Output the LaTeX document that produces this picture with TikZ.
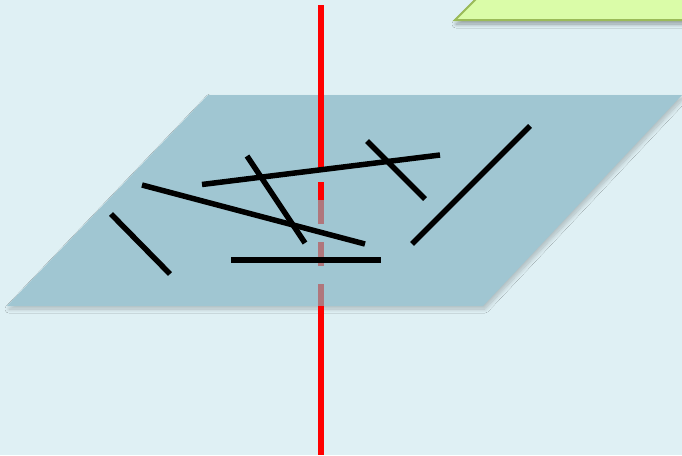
\documentclass[tikz,border=0pt]{standalone}
\usetikzlibrary{shadows.blur}
\definecolor{bgc}{RGB}{223,240,244}
\definecolor{planec}{RGB}{160,198,210}
\definecolor{greenf}{RGB}{218,252,168}
\definecolor{greenb}{RGB}{155,187,89}
\definecolor{hiddenred}{RGB}{176,118,124}
\tikzset{
  seg/.style={line width=5.5pt, black, line cap=butt},
  redline/.style={line width=6pt, red, line cap=butt},
  hidline/.style={line width=6pt, hiddenred, line cap=butt},
}
\begin{document}
\begin{tikzpicture}[x=1pt,y=-1pt]
\useasboundingbox (0,0) rectangle (682,455);
\fill[bgc] (0,0) rectangle (682,455);
% green shape at top right
\begin{scope}
\clip (0,0) rectangle (682,455);
\fill[greenf, draw=greenb, line width=2pt, blur shadow={shadow xshift=1pt, shadow yshift=-4pt, shadow blur radius=4pt, shadow blur steps=8, shadow opacity=35}]
  (455,20) -- (495,-20) -- (700,-20) -- (700,20) -- cycle;
\end{scope}
% plane
\fill[planec, blur shadow={shadow xshift=2pt, shadow yshift=-3pt, shadow blur radius=4pt, shadow blur steps=10, shadow opacity=22}]
  (7,306) -- (208,95) -- (682,95) -- (483,306) -- cycle;
% red axis
\coordinate (t0) at (321,5);
\coordinate (t1) at (321,169);
\coordinate (t2) at (321,182);
\coordinate (t3) at (321,200);
\coordinate (h1) at (321,224);
\coordinate (h2) at (321,242);
\coordinate (h3) at (321,266);
\coordinate (h4) at (321,284);
\coordinate (b0) at (321,306);
\coordinate (b1) at (321,455);
\draw[redline] (t0) -- (t1);
\draw[redline] (t2) -- (t3);
\draw[hidline] (t3) -- (h1);
\draw[hidline] (h2) -- (h3);
\draw[hidline] (h4) -- (b0);
\draw[redline] (b0) -- (b1);
% black segments
\draw[seg] (111,214) -- (170,274);
\draw[seg] (142,185) -- (365,244);
\draw[seg] (202,184.5) -- (440,155);
\draw[seg] (247,156) -- (305,243);
\draw[seg] (231,260) -- (381,260);
\draw[seg] (367,141) -- (425,199);
\draw[seg] (412,244) -- (530,126);
\end{tikzpicture}
\end{document}
